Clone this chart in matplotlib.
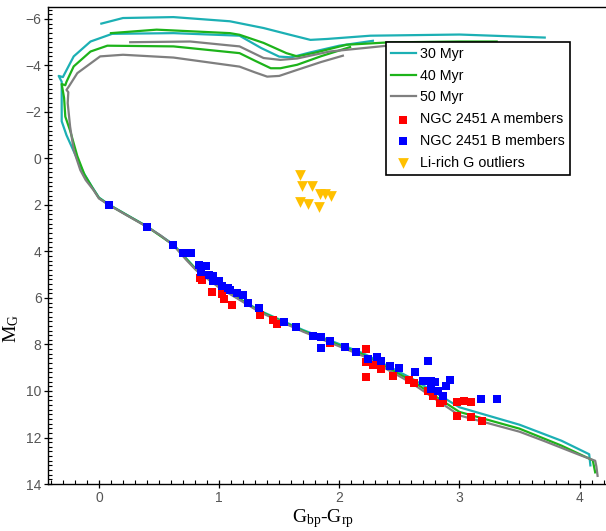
import numpy as np
import matplotlib
matplotlib.use("Agg")
import matplotlib.pyplot as plt
from matplotlib.ticker import MultipleLocator

plt.rcParams['font.family'] = ['Liberation Sans', 'DejaVu Sans']
plt.rcParams['mathtext.fontset'] = 'custom'
plt.rcParams['mathtext.rm'] = 'Liberation Serif'

# Isochrones (Gbp-Grp, M_G)
iso30_x = [4.09, 4.08, 3.85, 3.5, 3.0, 2.6, 2.2, 1.7, 1.34, 1.0, 0.81, 0.62, 0.40, 0.23, 0.086, 0.0,
           -0.06, -0.13, -0.20, -0.27, -0.31, -0.31, -0.31, -0.335, -0.30, -0.28, -0.21, -0.07, 0.11,
           0.62, 1.17, 1.35, 1.50, 1.60, 1.75, 2.0, 2.28]
iso30_y = [13.2, 12.72, 12.14, 11.45, 10.7, 9.45, 8.38, 7.38, 6.55, 5.5, 4.77, 3.70, 2.92, 2.42, 1.99, 1.68,
           1.2, 0.6, -0.2, -1.0, -1.6, -2.4, -3.3, -3.55, -3.5, -3.7, -4.39, -5.03, -5.36,
           -5.39, -5.28, -4.75, -4.38, -4.35, -4.55, -4.85, -5.06]
iso30_top_x = [0.02, 0.20, 0.62, 1.09, 1.37, 1.59, 1.76, 1.90, 2.26, 3.0, 3.71]
iso30_top_y = [-5.80, -6.04, -6.08, -5.90, -5.61, -5.32, -5.10, -5.14, -5.28, -5.33, -5.2]

iso40_x = [4.13, 4.11, 3.85, 3.5, 3.0, 2.6, 2.2, 1.7, 1.34, 1.0, 0.81, 0.62, 0.40, 0.23, 0.086, 0.0,
           -0.05, -0.12, -0.18, -0.24, -0.28, -0.29, -0.31, -0.28, -0.27, -0.21, -0.07, 0.07,
           0.62, 1.17, 1.30, 1.43, 1.51, 1.65, 1.85, 2.09]
iso40_y = [13.5, 12.98, 12.35, 11.62, 10.9, 9.55, 8.44, 7.42, 6.58, 5.52, 4.79, 3.72, 2.93, 2.43, 2.0, 1.70,
           1.3, 0.7, -0.1, -1.2, -1.8, -2.6, -3.2, -3.15, -3.3, -3.96, -4.60, -4.85,
           -4.82, -4.53, -4.2, -3.88, -3.88, -4.03, -4.4, -4.79]
iso40_top_x = [0.10, 0.48, 1.09, 1.17, 1.37, 1.56, 1.65, 1.80, 2.06, 2.40, 3.0, 3.31]
iso40_top_y = [-5.39, -5.54, -5.39, -5.32, -4.97, -4.53, -4.39, -4.55, -4.89, -4.99, -5.03, -5.03]

iso50_x = [4.15, 4.14, 4.13, 4.0, 3.7, 3.5, 3.0, 2.6, 2.2, 1.7, 1.34, 1.0, 0.81, 0.73, 0.62, 0.51, 0.40,
           0.23, 0.086, 0.0, -0.045, -0.11, -0.155, -0.21, -0.24, -0.26, -0.255, -0.27, -0.25, -0.18,
           0.01, 0.20, 0.62, 1.17, 1.30, 1.40, 1.50, 1.65, 1.85, 2.03]
iso50_y = [13.65, 13.25, 13.0, 12.75, 12.14, 11.75, 11.05, 9.65, 8.5, 7.45, 6.61, 5.55, 4.81, 4.38, 3.73, 3.30, 2.94,
           2.44, 2.01, 1.72, 1.36, 0.93, 0.50, -0.36, -1.37, -2.38, -2.85, -2.95, -3.1, -3.67,
           -4.39, -4.46, -4.34, -3.95, -3.7, -3.52, -3.55, -3.81, -4.15, -4.42]
iso50_top_x = [0.26, 0.76, 1.09, 1.17, 1.37, 1.51, 1.65, 1.92, 2.40, 3.0]
iso50_top_y = [-5.0, -5.03, -4.86, -4.82, -4.32, -4.24, -4.3, -4.6, -4.85, -4.95]

# Cluster members
a_x = [0.84, 0.86, 0.94, 1.02, 1.04, 1.11, 1.34, 1.45, 1.48, 1.92, 2.22, 2.22, 2.28, 2.35, 2.22, 2.45,
       2.58, 2.62, 2.74, 2.78, 2.84, 2.86, 2.98, 3.04, 3.10, 2.98, 3.10, 3.19]
a_y = [5.14, 5.24, 5.75, 5.82, 6.03, 6.29, 6.75, 6.94, 7.14, 7.95, 8.19, 8.77, 8.87, 9.05, 9.41, 9.34,
       9.53, 9.67, 10.02, 10.23, 10.52, 10.42, 10.46, 10.42, 10.49, 11.07, 11.11, 11.31]

b_x = [0.086, 0.40, 0.62, 0.70, 0.77, 0.83, 0.89, 0.85, 0.92, 0.95, 0.95, 1.0, 1.02, 1.07, 1.09, 1.15,
       1.20, 1.24, 1.33, 1.54, 1.64, 1.78, 1.85, 1.92, 1.85, 2.05, 2.14, 2.24, 2.31, 2.35, 2.42, 2.50,
       2.63, 2.74, 2.70, 2.76, 2.80, 2.76, 2.82, 2.86, 2.89, 2.92, 3.18, 3.31]
b_y = [2.01, 2.94, 3.70, 4.07, 4.07, 4.57, 4.61, 4.88, 5.03, 5.06, 5.29, 5.29, 5.50, 5.56, 5.67, 5.79,
       5.89, 6.22, 6.42, 7.04, 7.26, 7.62, 7.66, 7.83, 8.15, 8.09, 8.33, 8.62, 8.55, 8.69, 8.91, 9.01,
       9.20, 8.69, 9.56, 9.59, 9.63, 9.91, 9.99, 10.2, 9.77, 9.53, 10.35, 10.35]

li_x = [1.67, 1.69, 1.77, 1.84, 1.88, 1.93, 1.67, 1.74, 1.83]
li_y = [0.72, 1.19, 1.19, 1.53, 1.53, 1.62, 1.87, 1.94, 2.08]

c30, c40, c50 = '#1cb0b4', '#1db31a', '#7f7f7f'

fig = plt.figure(figsize=(6.06, 5.31), dpi=100)
ax = fig.add_axes([0.080, 0.0885, 0.920, 0.8977])

ax.plot(iso30_x, iso30_y, color=c30, lw=1.6, label='30 Myr')
ax.plot(iso30_top_x, iso30_top_y, color=c30, lw=1.6)
ax.plot(iso40_x, iso40_y, color=c40, lw=1.6, label='40 Myr')
ax.plot(iso40_top_x, iso40_top_y, color=c40, lw=1.6)
ax.plot(iso50_x, iso50_y, color=c50, lw=1.6, label='50 Myr')
ax.plot(iso50_top_x, iso50_top_y, color=c50, lw=1.6)

ax.scatter(a_x, a_y, marker='s', s=38, color='#ff0000', lw=0, label='NGC 2451 A members', zorder=3)
ax.scatter(b_x, b_y, marker='s', s=38, color='#0000ff', lw=0, label='NGC 2451 B members', zorder=3)
ax.scatter(li_x, li_y, marker='v', s=60, color='#ffc000', lw=0, label='Li-rich G outliers', zorder=3)

ax.set_xlim(-0.42, 4.22)
ax.set_ylim(14.0, -6.5)
ax.xaxis.set_major_locator(MultipleLocator(1))
ax.xaxis.set_minor_locator(MultipleLocator(0.1))
ax.yaxis.set_major_locator(MultipleLocator(2))
ax.yaxis.set_minor_locator(MultipleLocator(0.2))
ax.tick_params(which='major', direction='inout', length=6, width=0.9, labelsize=10,
               labelcolor='#555555', pad=2)
ax.tick_params(which='minor', direction='in', length=3, width=0.8)
ax.spines['right'].set_visible(False)
for s in ['left', 'bottom', 'top']:
    ax.spines[s].set_linewidth(1.0)

ax.set_xlabel(r'$\mathrm{G_{bp}}$-$\mathrm{G_{rp}}$', fontsize=14, family='Liberation Serif')
ax.xaxis.set_label_coords(0.4925, -0.048)
ax.set_ylabel(r'$\mathrm{M_G}$', fontsize=14, family='Liberation Serif')
ax.yaxis.set_label_coords(-0.05, 0.327)

leg = ax.legend(loc='upper left', bbox_to_anchor=(0.605, 0.928), fontsize=10.3, frameon=True,
                fancybox=False, framealpha=1, edgecolor='black', handlelength=1.75,
                handletextpad=0.3, labelspacing=0.55, borderpad=0.35, borderaxespad=0,
                markerscale=1.0)
leg.get_frame().set_linewidth(1.2)

fig.savefig('out.png', dpi=100)
